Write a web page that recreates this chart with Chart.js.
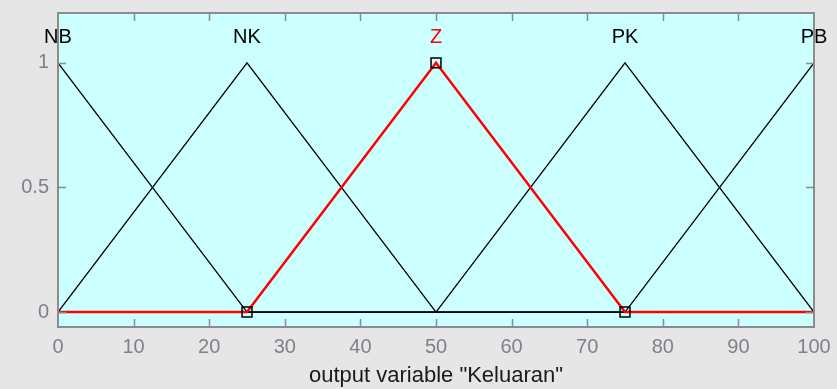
<!DOCTYPE html>
<html>
<head>
<meta charset="utf-8">
<script src="https://cdn.jsdelivr.net/npm/chart.js@4/dist/chart.umd.min.js"></script>
<style>
  html, body { margin: 0; padding: 0; background: #e6e6e6; }
  #wrap { width: 837px; height: 389px; }
</style>
</head>
<body>
<div id="wrap"><canvas id="mf" width="837" height="389"></canvas></div>
<script>
// membership functions of output "Keluaran" (triangles, 0..100)
const xValues = [0, 25, 50, 75, 100];
const mfNames = ['NB', 'NK', 'Z', 'PK', 'PB'];
const mfPeaks = [0, 25, 50, 75, 100];
const nbVals = [1, 0, 0, 0, 0];
const nkVals = [0, 1, 0, 0, 0];
const zVals  = [0, 0, 1, 0, 0];
const pkVals = [0, 0, 0, 1, 0];
const pbVals = [0, 0, 0, 0, 1];
const xTicks = [0, 10, 20, 30, 40, 50, 60, 70, 80, 90, 100];
const yTicks = [0, 0.5, 1];
const selected = 'Z';

const FONT = '"Liberation Sans", Arial, sans-serif';
const toPts = vals => vals.map((v, i) => ({ x: xValues[i], y: v }));

const blackMf = (name, vals) => ({
    label: name,
    data: toPts(vals),
    borderColor: '#000',
    borderWidth: 1.3,
    pointRadius: 0,
    tension: 0,
    order: 2
});

// draws the cyan axes box, inward ticks on all four sides, and the MF names
const frame = {
    id: 'frame',
    beforeDraw(chart) {
        const { ctx, chartArea: a } = chart;
        ctx.save();
        ctx.fillStyle = '#e6e6e6';
        ctx.fillRect(0, 0, chart.width, chart.height);
        ctx.fillStyle = '#ccffff';
        ctx.fillRect(a.left, a.top, a.right - a.left, a.bottom - a.top);
        ctx.restore();
    },
    afterDatasetsDraw(chart) {
        const { ctx, chartArea: a, scales: { x, y } } = chart;
        ctx.save();
        ctx.strokeStyle = '#8c8c8c';
        ctx.lineWidth = 1.5;
        ctx.beginPath();
        xTicks.forEach(t => {
            const px = Math.round(x.getPixelForValue(t)) + 0.5;
            if (t === 0 || t === 100) return;
            ctx.moveTo(px, a.bottom); ctx.lineTo(px, a.bottom - 8);
            ctx.moveTo(px, a.top); ctx.lineTo(px, a.top + 8);
        });
        yTicks.forEach(t => {
            const py = Math.round(y.getPixelForValue(t)) + 0.5;
            ctx.moveTo(a.left, py); ctx.lineTo(a.left + 8, py);
            ctx.moveTo(a.right, py); ctx.lineTo(a.right - 8, py);
        });
        ctx.stroke();
        ctx.lineWidth = 2;
        ctx.strokeRect(a.left, a.top, a.right - a.left, a.bottom - a.top);

        ctx.font = '20px ' + FONT;
        ctx.textAlign = 'center';
        ctx.textBaseline = 'middle';
        mfNames.forEach((n, i) => {
            ctx.fillStyle = n === selected ? '#ff0000' : '#000';
            ctx.fillText(n, x.getPixelForValue(mfPeaks[i]), y.getPixelForValue(1.1));
        });
        ctx.restore();
    }
};

new Chart(document.getElementById('mf'), {
    type: 'line',
    data: {
        datasets: [
            {
                label: 'Z',
                data: toPts(zVals),
                borderColor: '#ff0000',
                borderWidth: 2.5,
                tension: 0,
                pointStyle: 'rect',
                pointRadius: [0, 7, 7, 7, 0],
                pointBorderColor: '#000',
                pointBackgroundColor: 'rgba(0,0,0,0)',
                pointBorderWidth: 1.5,
                order: 0
            },
            blackMf('NB', nbVals),
            blackMf('NK', nkVals),
            blackMf('PK', pkVals),
            blackMf('PB', pbVals)
        ]
    },
    options: {
        responsive: false,
        animation: false,
        layout: { padding: { left: 0, top: 13, right: 23, bottom: 0 } },
        plugins: { legend: { display: false }, tooltip: { enabled: false } },
        scales: {
            x: {
                type: 'linear',
                min: 0,
                max: 100,
                afterBuildTicks: s => { s.ticks = xTicks.map(v => ({ value: v })); },
                afterFit: s => { s.height = 62; s.paddingLeft = 0; s.paddingRight = 0; },
                grid: { display: false, drawTicks: false },
                border: { display: false },
                ticks: {
                    color: '#80808c',
                    font: { family: FONT, size: 20 },
                    padding: 8,
                    maxRotation: 0,
                    autoSkip: false
                },
                title: {
                    display: true,
                    text: 'output variable "Keluaran"',
                    color: '#1a1a1a',
                    font: { family: FONT, size: 22 },
                    padding: { top: 0, bottom: 0 }
                }
            },
            y: {
                min: -0.06,
                max: 1.2,
                afterBuildTicks: s => { s.ticks = yTicks.map(v => ({ value: v })); },
                afterFit: s => { s.width = 58; s.paddingTop = 0; s.paddingBottom = 0; },
                grid: { display: false, drawTicks: false },
                border: { display: false },
                ticks: {
                    color: '#80808c',
                    font: { family: FONT, size: 20 },
                    padding: 9,
                    callback: v => String(v)
                }
            }
        }
    },
    plugins: [frame]
});
</script>
</body>
</html>
